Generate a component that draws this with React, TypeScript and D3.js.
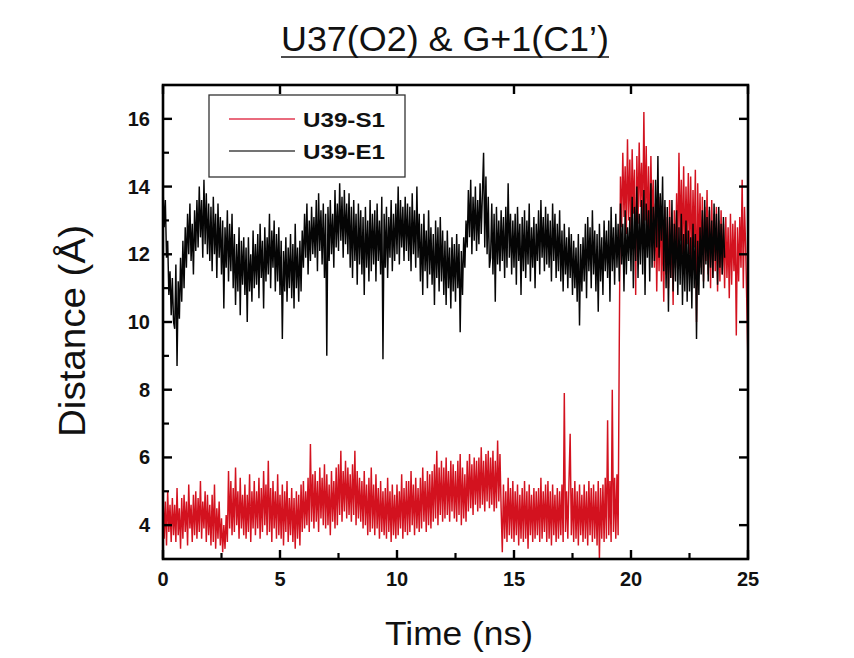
import React from "react";
import * as d3 from "d3";

const W = 854;
const H = 658;

const TITLE = "U37(O2) & G+1(C1’)";
const X_LABEL = "Time (ns)";
const Y_LABEL = "Distance (Å)";
const SERIES_NAMES = ["U39-S1", "U39-E1"];
const SERIES_COLORS = ["#d3121f", "#050505"];
const LEGEND_COLORS = ["#e23a52", "#444444"];

const X_DOMAIN = [0, 25];
const Y_DOMAIN = [3, 17];
const X_TICKS = [0, 5, 10, 15, 20, 25];
const X_MINOR = [2.5, 7.5, 12.5, 17.5, 22.5];
const Y_TICKS = [4, 6, 8, 10, 12, 14, 16];
const Y_MINOR = [5, 7, 9, 11, 13, 15];
const TIME_STEP = 0.05;

// U39-S1 (red), one value per 0.05 ns, 0.0 .. 25.0 (each row = 0.5 ns)
const S1 = [
  4.9, 3.6, 4.7, 3.4, 5.0, 3.8, 4.6, 3.5, 4.8, 3.7,
  4.6, 3.5, 5.1, 3.7, 4.5, 3.3, 4.8, 3.6, 4.9, 3.8,
  4.7, 3.4, 5.2, 3.9, 4.6, 3.5, 4.9, 3.7, 5.0, 3.6,
  4.8, 3.8, 5.3, 3.6, 4.7, 3.9, 5.0, 3.5, 4.9, 3.7,
  4.6, 3.4, 4.9, 3.5, 5.2, 3.3, 4.5, 3.6, 4.7, 3.4,
  4.2, 3.2, 4.0, 3.3, 4.3, 3.5, 5.6, 3.9, 5.3, 3.7,
  5.1, 3.8, 5.7, 4.0, 5.0, 3.6, 5.4, 3.9, 4.9, 3.7,
  5.2, 3.6, 4.9, 3.8, 5.5, 3.5, 5.0, 3.9, 5.3, 3.7,
  5.0, 3.9, 5.4, 3.6, 5.1, 3.8, 5.6, 4.0, 5.2, 3.7,
  5.9, 3.8, 5.1, 3.5, 5.3, 3.9, 5.0, 3.6, 5.5, 3.7,
  4.9, 3.6, 5.2, 3.4, 5.0, 3.8, 5.3, 3.5, 4.8, 3.7,
  5.1, 3.5, 4.8, 3.3, 5.0, 3.6, 4.9, 3.4, 5.2, 3.8,
  5.3, 3.9, 5.0, 4.0, 5.4, 3.8, 6.4, 4.1, 5.5, 3.9,
  5.6, 4.1, 5.3, 3.8, 5.7, 4.2, 5.4, 4.0, 5.8, 3.9,
  5.5, 4.0, 5.2, 3.7, 5.6, 4.1, 5.3, 3.9, 5.7, 4.0,
  5.8, 4.3, 6.2, 4.1, 5.6, 4.4, 5.9, 4.2, 5.7, 4.3,
  5.5, 4.1, 5.8, 4.3, 6.2, 4.0, 5.6, 4.2, 5.4, 4.1,
  5.3, 3.9, 5.6, 4.0, 5.2, 3.7, 5.4, 3.8, 5.7, 3.9,
  5.2, 3.7, 5.5, 3.9, 5.1, 3.6, 5.3, 3.8, 5.0, 3.7,
  5.1, 3.6, 5.4, 3.8, 5.0, 3.5, 5.2, 3.7, 4.9, 3.6,
  5.2, 3.7, 5.0, 3.9, 5.5, 3.6, 5.1, 3.8, 5.3, 3.7,
  5.3, 3.8, 5.6, 4.0, 5.2, 3.7, 5.4, 3.9, 5.1, 3.8,
  5.4, 3.9, 5.7, 4.1, 5.3, 3.8, 5.6, 4.0, 5.5, 3.9,
  5.6, 4.1, 5.8, 4.2, 6.2, 4.0, 5.7, 4.3, 5.9, 4.1,
  5.7, 4.2, 6.0, 4.3, 5.6, 4.1, 5.9, 4.4, 5.8, 4.2,
  5.6, 4.1, 5.9, 4.3, 6.1, 4.0, 5.7, 4.2, 5.5, 4.1,
  5.9, 4.4, 6.1, 4.5, 5.8, 4.3, 6.0, 4.6, 5.9, 4.4,
  6.0, 4.5, 6.3, 4.6, 5.9, 4.4, 6.1, 4.7, 6.2, 4.5,
  6.0, 4.6, 6.2, 4.4, 5.9, 4.5, 6.5, 4.7, 6.1, 4.5,
  3.2, 5.2, 3.6, 5.0, 3.5, 5.4, 3.7, 5.1, 3.6, 5.3,
  3.5, 5.0, 3.7, 5.2, 3.4, 4.9, 3.6, 5.1, 3.5, 5.3,
  3.6, 5.0, 3.3, 5.2, 3.7, 4.9, 3.5, 5.1, 3.6, 5.0,
  3.7, 5.1, 3.5, 5.4, 3.6, 5.0, 3.8, 5.2, 3.5, 5.3,
  3.6, 5.0, 3.4, 5.2, 3.7, 4.9, 3.5, 5.1, 3.6, 5.0,
  3.7, 5.2, 3.5, 7.9, 3.8, 5.0, 3.6, 5.3, 6.7, 3.7,
  5.1, 3.5, 5.3, 3.6, 5.0, 3.4, 5.2, 3.7, 4.9, 3.5,
  5.2, 3.6, 5.0, 3.4, 5.3, 3.7, 5.1, 3.5, 5.2, 3.6,
  5.0, 3.4, 5.3, 3.0, 5.1, 3.6, 5.2, 3.5, 5.4, 3.6,
  7.1, 3.7, 5.3, 3.5, 8.0, 3.8, 5.4, 3.6, 5.5, 3.7,
  9.5, 14.3, 12.8, 15.0, 13.1, 14.6, 12.6, 15.4, 13.0, 14.8,
  12.7, 15.1, 13.2, 14.5, 10.8, 14.9, 12.9, 15.3, 13.4, 14.7,
  12.8, 16.2, 13.0, 15.2, 12.5, 14.6, 12.2, 14.9, 12.9, 14.2,
  11.6, 13.5, 10.9, 13.2, 11.5, 13.7, 11.2, 13.0, 10.6, 13.4,
  11.4, 13.1, 11.0, 13.6, 11.3, 12.9, 10.5, 13.3, 11.6, 13.8,
  12.1, 15.0, 12.4, 14.2, 12.0, 14.6, 11.8, 14.0, 12.3, 14.4,
  12.0, 14.3, 11.7, 13.9, 12.2, 14.5, 10.0, 14.1, 11.9, 13.8,
  11.6, 13.7, 11.2, 13.4, 11.8, 13.9, 11.4, 13.3, 11.0, 13.6,
  11.3, 13.2, 11.5, 13.4, 10.9, 13.0, 11.2, 13.3, 11.4, 12.9,
  11.0, 13.1, 11.3, 12.8, 10.7, 13.2, 11.1, 12.9, 11.5, 13.0,
  9.6, 12.8, 11.2, 13.1, 11.6, 14.2, 11.0, 13.4, 12.2, 10.5,
  8.7,
];

// U39-E1 (black), one value per 0.05 ns, 0.0 .. 24.0 (each row = 0.5 ns)
const E1 = [
  14.0, 12.8, 13.6, 11.9, 12.4, 10.8, 11.5, 10.2, 11.3, 10.0,
  9.8, 11.7, 8.7, 11.2, 10.1, 11.9, 10.6, 12.4, 11.0, 12.8,
  11.6, 13.2, 12.0, 13.5, 11.8, 12.9, 11.4, 13.3, 12.1, 13.6,
  12.2, 14.0, 12.5, 13.6, 11.9, 14.2, 12.3, 13.8, 12.0, 13.5,
  11.8, 13.4, 11.5, 13.7, 12.0, 13.2, 11.3, 13.5, 11.9, 13.1,
  11.4, 13.0, 10.4, 12.8, 11.6, 13.3, 11.2, 12.9, 11.5, 13.2,
  11.0, 12.6, 10.5, 12.3, 10.9, 12.8, 10.2, 12.4, 11.1, 12.5,
  10.8, 12.2, 10.0, 12.5, 10.9, 12.0, 10.6, 12.7, 11.0, 12.3,
  11.1, 12.6, 10.7, 12.9, 11.3, 12.4, 10.4, 12.8, 11.2, 12.5,
  11.4, 13.2, 11.0, 12.7, 11.6, 13.0, 10.9, 12.6, 11.2, 12.8,
  10.8, 12.4, 9.5, 12.1, 10.9, 12.5, 10.6, 12.2, 11.0, 12.6,
  10.7, 12.3, 10.4, 12.9, 11.0, 12.2, 10.6, 12.4, 10.9, 12.7,
  11.6, 13.2, 11.9, 13.5, 11.4, 13.0, 11.8, 13.4, 12.0, 13.1,
  11.9, 13.6, 11.5, 13.8, 12.1, 13.3, 11.7, 13.5, 11.3, 13.2,
  9.0, 13.4, 11.8, 13.6, 12.0, 13.2, 11.6, 13.9, 12.2, 13.5,
  12.1, 14.1, 12.4, 13.7, 11.9, 13.9, 12.3, 13.5, 12.0, 13.8,
  11.6, 13.4, 11.3, 13.6, 11.8, 13.2, 11.1, 13.5, 11.7, 13.3,
  11.4, 13.1, 10.8, 13.4, 11.6, 13.0, 11.2, 13.6, 11.5, 13.2,
  11.7, 13.3, 11.2, 13.5, 11.8, 13.0, 11.4, 13.7, 8.9, 13.2,
  11.6, 13.4, 11.3, 13.1, 11.9, 13.6, 11.5, 13.2, 11.8, 13.5,
  12.0, 14.0, 11.7, 13.6, 12.2, 13.4, 11.8, 13.7, 12.1, 13.5,
  11.8, 13.4, 11.5, 13.8, 12.0, 13.3, 11.6, 14.0, 11.9, 13.2,
  11.2, 12.9, 10.8, 13.2, 11.5, 12.7, 11.0, 13.3, 11.4, 12.8,
  11.1, 12.6, 10.5, 13.0, 11.3, 12.8, 10.9, 13.1, 11.2, 12.7,
  10.8, 12.4, 10.5, 12.7, 11.0, 12.2, 10.4, 12.5, 10.9, 12.3,
  10.6, 12.6, 11.0, 12.3, 9.7, 12.1, 10.8, 12.5, 11.6, 13.0,
  12.2, 13.9, 12.5, 14.2, 12.0, 13.7, 12.4, 14.0, 12.1, 13.6,
  12.3, 14.1, 12.6, 13.8, 15.0, 12.2, 14.3, 12.0, 13.7, 11.6,
  11.9, 13.5, 11.4, 13.2, 10.6, 13.4, 11.7, 13.0, 11.5, 13.3,
  11.8, 13.1, 11.3, 13.4, 11.6, 14.1, 11.9, 13.2, 11.4, 13.0,
  11.6, 13.2, 11.1, 13.4, 11.8, 12.9, 10.8, 13.1, 11.5, 13.3,
  11.3, 13.0, 11.7, 13.5, 11.2, 12.8, 11.6, 13.1, 11.0, 12.9,
  11.8, 13.3, 11.4, 13.6, 11.9, 13.1, 11.5, 13.4, 11.7, 13.2,
  11.6, 13.0, 11.2, 13.5, 11.8, 13.2, 11.3, 12.9, 11.5, 13.3,
  11.2, 12.7, 10.9, 12.9, 11.4, 12.5, 11.0, 12.8, 11.3, 12.6,
  10.8, 12.4, 11.0, 12.2, 10.6, 12.6, 9.9, 12.3, 10.9, 12.5,
  11.2, 12.9, 10.7, 13.1, 11.5, 12.8, 11.0, 13.3, 11.4, 12.7,
  10.9, 12.6, 10.3, 12.9, 11.2, 12.5, 10.8, 13.0, 11.5, 12.7,
  11.3, 13.0, 10.6, 13.4, 11.5, 12.8, 11.1, 13.2, 11.6, 12.9,
  11.2, 13.5, 11.7, 12.9, 10.9, 13.3, 11.4, 12.8, 11.8, 13.1,
  11.5, 13.7, 11.0, 13.4, 11.8, 14.0, 11.3, 13.2, 11.7, 13.6,
  11.4, 13.9, 10.8, 13.5, 11.9, 13.3, 11.2, 14.1, 11.6, 13.4,
  11.8, 14.2, 12.2, 14.9, 11.9, 13.8, 12.4, 14.3, 11.5, 13.6,
  11.0, 13.4, 10.3, 13.1, 11.3, 13.6, 10.9, 12.9, 11.2, 13.3,
  10.8, 12.8, 11.1, 13.2, 10.5, 12.6, 10.9, 13.0, 10.6, 12.7,
  10.9, 12.5, 10.4, 12.9, 11.0, 12.6, 9.5, 12.4, 10.8, 12.8,
  11.4, 13.3, 11.0, 13.6, 11.7, 13.1, 11.2, 13.4, 11.6, 13.0,
  11.3, 13.5, 11.8, 13.2, 11.1, 13.4, 11.6, 12.9, 11.4, 13.1,
  11.9,
];

const PLOT = { left: 163, right: 748, top: 85, bottom: 559 };
const FONT = "'Liberation Sans', Arial, sans-serif";

export default function App() {
  const x = d3.scaleLinear().domain(X_DOMAIN).range([PLOT.left, PLOT.right]);
  const y = d3.scaleLinear().domain(Y_DOMAIN).range([PLOT.bottom, PLOT.top]);
  const line = d3
    .line<number>()
    .x((_, i) => x(i * TIME_STEP))
    .y((d) => y(d));

  const series = [S1, E1];
  const midY = (PLOT.top + PLOT.bottom) / 2;

  return (
    <div style={{ position: "absolute", left: 0, top: 0 }}>
      <svg width={W} height={H} viewBox={`0 0 ${W} ${H}`} style={{ display: "block", background: "#fff" }}>
        <defs>
          <clipPath id="plotclip">
            <rect x={PLOT.left} y={PLOT.top} width={PLOT.right - PLOT.left} height={PLOT.bottom - PLOT.top} />
          </clipPath>
        </defs>
        <rect width={W} height={H} fill="#fff" />

        {/* title */}
        <text
          x={445}
          y={51}
          textAnchor="middle"
          fontFamily={FONT}
          fontSize={35}
          textLength={328}
          lengthAdjust="spacingAndGlyphs"
          fill="#111"
        >
          {TITLE}
        </text>
        <line x1={281} x2={609} y1={57} y2={57} stroke="#111" strokeWidth={1.6} />

        {/* data */}
        <g clipPath="url(#plotclip)">
          {series.map((s, k) => (
            <path key={k} d={line(s) || ""} fill="none" stroke={SERIES_COLORS[k]} strokeWidth={1.45} strokeLinejoin="bevel" />
          ))}
        </g>

        {/* frame */}
        <rect
          x={PLOT.left}
          y={PLOT.top}
          width={PLOT.right - PLOT.left}
          height={PLOT.bottom - PLOT.top}
          fill="none"
          stroke="#000"
          strokeWidth={2.6}
        />

        {/* x ticks */}
        {X_TICKS.map((t) => (
          <g key={"xt" + t}>
            <line x1={x(t)} x2={x(t)} y1={PLOT.bottom} y2={PLOT.bottom - 9} stroke="#000" strokeWidth={2.4} />
            <line x1={x(t)} x2={x(t)} y1={PLOT.top} y2={PLOT.top + 9} stroke="#000" strokeWidth={2.4} />
            <text x={x(t)} y={586} textAnchor="middle" fontFamily={FONT} fontWeight="bold" fontSize={20} fill="#111">
              {t}
            </text>
          </g>
        ))}
        {X_MINOR.map((t) => (
          <line key={"xm" + t} x1={x(t)} x2={x(t)} y1={PLOT.bottom} y2={PLOT.bottom - 6} stroke="#000" strokeWidth={2.2} />
        ))}

        {/* y ticks */}
        {Y_TICKS.map((v) => (
          <g key={"yt" + v}>
            <line x1={PLOT.left} x2={PLOT.left + 9} y1={y(v)} y2={y(v)} stroke="#000" strokeWidth={2.4} />
            <line x1={PLOT.right} x2={PLOT.right - 9} y1={y(v)} y2={y(v)} stroke="#000" strokeWidth={2.4} />
            <text x={150} y={y(v) + 7} textAnchor="end" fontFamily={FONT} fontWeight="bold" fontSize={20} fill="#111">
              {v}
            </text>
          </g>
        ))}
        {Y_MINOR.map((v) => (
          <line key={"ym" + v} x1={PLOT.left} x2={PLOT.left + 6} y1={y(v)} y2={y(v)} stroke="#000" strokeWidth={2.2} />
        ))}

        {/* axis titles */}
        <text
          x={459}
          y={645}
          textAnchor="middle"
          fontFamily={FONT}
          fontSize={34}
          textLength={148}
          lengthAdjust="spacingAndGlyphs"
          fill="#111"
        >
          {X_LABEL}
        </text>
        <text
          transform={`translate(85, ${midY + 9}) rotate(-90)`}
          textAnchor="middle"
          fontFamily={FONT}
          fontSize={36}
          textLength={212}
          lengthAdjust="spacingAndGlyphs"
          fill="#111"
        >
          {Y_LABEL}
        </text>

        {/* legend */}
        <rect x={209} y={95} width={196} height={82} fill="#fff" stroke="#333" strokeWidth={1.3} />
        {SERIES_NAMES.map((name, k) => (
          <g key={name}>
            <line x1={229} x2={295} y1={119 + k * 32} y2={119 + k * 32} stroke={LEGEND_COLORS[k]} strokeWidth={1.3} />
            <text
              x={303}
              y={127 + k * 32}
              fontFamily={FONT}
              fontWeight="bold"
              fontSize={21}
              textLength={82}
              lengthAdjust="spacingAndGlyphs"
              fill="#111"
            >
              {name}
            </text>
          </g>
        ))}
      </svg>
    </div>
  );
}
